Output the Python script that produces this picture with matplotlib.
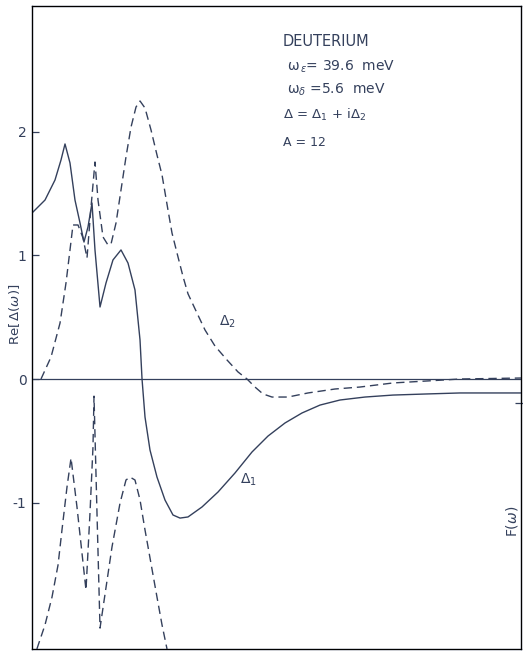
import matplotlib.pyplot as plt
import numpy as np

INK = '#34405c'

# frequency axis in arbitrary units (0..100 across the frame)
omega_d1 = [0.0, 2.66, 4.70, 5.93, 6.75, 7.77, 8.79, 9.82, 10.63, 11.45, 12.27,
            12.88, 13.91, 15.13, 16.56, 18.20, 19.63, 21.06, 22.09, 22.50, 23.11,
            24.13, 25.56, 27.20, 28.83, 30.27, 31.90, 34.77, 38.04, 41.51, 44.99,
            48.26, 51.74, 55.22, 58.90, 62.99, 68.10, 73.82, 80.78, 87.53, 100.0]
delta1 = [1.344, 1.449, 1.611, 1.773, 1.903, 1.749, 1.449, 1.263, 1.109, 1.231, 1.425,
          1.045, 0.583, 0.777, 0.964, 1.045, 0.939, 0.721, 0.316, 0.0, -0.308,
          -0.575, -0.794, -0.980, -1.101, -1.126, -1.117, -1.036, -0.915, -0.761, -0.591,
          -0.462, -0.356, -0.275, -0.211, -0.170, -0.146, -0.130, -0.121, -0.113, -0.113]

omega_d2 = [1.84, 3.89, 5.73, 6.95, 7.77, 8.38, 9.41, 10.43, 11.25, 12.07, 12.88,
            13.50, 14.52, 15.54, 16.16, 17.18, 18.20, 19.22, 20.25, 21.27, 22.09,
            23.11, 24.34, 25.56, 26.59, 27.81, 28.63, 29.86, 30.88, 31.90, 33.74,
            35.38, 37.42, 39.88, 42.13, 43.97, 45.60, 47.24, 49.08, 52.35, 56.44,
            61.96, 67.08, 73.82, 80.78, 87.53, 100.0]
delta2 = [0.0, 0.178, 0.453, 0.777, 1.045, 1.247, 1.247, 1.142, 0.980, 1.393, 1.757,
          1.449, 1.150, 1.085, 1.093, 1.263, 1.530, 1.798, 2.040, 2.202, 2.251,
          2.194, 2.016, 1.814, 1.652, 1.368, 1.182, 0.988, 0.830, 0.690, 0.534,
          0.397, 0.267, 0.154, 0.057, 0.0, -0.065, -0.121, -0.146, -0.146, -0.113,
          -0.081, -0.065, -0.032, -0.016, 0.0, 0.008]

# phonon density of states F(omega), arbitrary units
omega_f = [1.0, 2.66, 4.09, 5.32, 6.13, 7.16, 7.98, 9.20, 10.22, 11.04, 11.86,
           12.47, 12.68, 13.29, 13.91, 16.36, 18.00, 19.22, 20.04, 21.06, 22.09,
           23.11, 25.56, 26.59, 27.61]
f_omega = [0.0, 0.098, 0.211, 0.341, 0.484, 0.659, 0.776, 0.577, 0.390, 0.240, 0.553,
           0.821, 1.028, 0.553, 0.085, 0.415, 0.593, 0.687, 0.699, 0.687, 0.606,
           0.484, 0.211, 0.098, 0.0]

y_ticks = [-1, 0, 1, 2]
y_ticklabels = ['-1', '0', '1', '2']

fig = plt.figure(figsize=(5.23, 6.53), dpi=100)
ax = fig.add_axes([32 / 523, 4 / 653, 489 / 523, 643 / 653])

ax.plot(omega_d1, delta1, color=INK, lw=1.0)
ax.plot(omega_d2, delta2, color=INK, lw=1.0, dashes=(6, 3.5))
ax.axhline(0, color=INK, lw=0.9)

ax.set_xlim(0, 100)
ax.set_ylim(-2.186, 3.02)
ax.set_xticks([])
ax.set_yticks(y_ticks)
ax.set_yticklabels(y_ticklabels)
ax.tick_params(axis='y', direction='in', length=5, width=0.9, color=INK,
               labelcolor=INK, labelsize=10, pad=4)
for s in ax.spines.values():
    s.set_color(INK)
    s.set_linewidth(1.0)

ax.text(-0.036, 0.52, r'Re$\left[\,\Delta(\omega)\right]$', transform=ax.transAxes,
        rotation=90, ha='center', va='center', color=INK, fontsize=9.5)

# F(omega) on its own scale, baseline at the bottom of the frame
ax2 = ax.twinx()
ax2.plot(omega_f, f_omega, color=INK, lw=1.0, dashes=(6, 3.5))
ax2.set_ylim(0, 2.614)
ax2.set_yticks([1])
ax2.set_yticklabels([])
ax2.tick_params(axis='y', direction='inout', length=8, width=0.9, color=INK)
ax2.text(0.982, 0.198, r'F$(\omega)$', transform=ax2.transAxes, rotation=90,
         ha='center', va='center', color=INK, fontsize=10)

# annotations
tx = 0.513
ax.text(tx, 0.938, 'DEUTERIUM', transform=ax.transAxes, color=INK, fontsize=10.5)
ax.text(tx + 0.008, 0.900, r'ω$_{\,\epsilon}$= 39.6  meV', transform=ax.transAxes,
        color=INK, fontsize=10)
ax.text(tx + 0.008, 0.864, r'ω$_{\delta}$ =5.6  meV', transform=ax.transAxes,
        color=INK, fontsize=10)
ax.text(tx, 0.825, r'Δ = Δ$_1$ + iΔ$_2$', transform=ax.transAxes,
        color=INK, fontsize=9.5)
ax.text(tx, 0.783, 'A = 12', transform=ax.transAxes, color=INK, fontsize=9)

ax.text(38.2, 0.43, r'Δ$_2$', color=INK, fontsize=10)
ax.text(42.5, -0.85, r'Δ$_1$', color=INK, fontsize=10)

fig.savefig('out.png', dpi=100)
